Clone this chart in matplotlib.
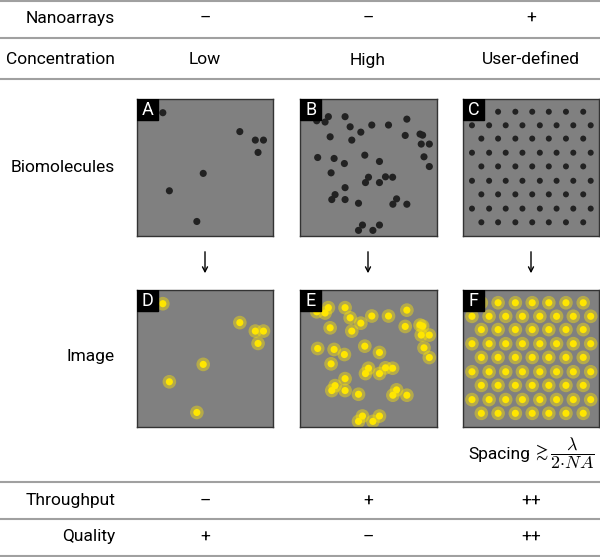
import matplotlib.pyplot as plt
import matplotlib.patches as patches

plt.rcParams["font.family"] = ["Roboto", "DejaVu Sans"]
plt.rcParams["mathtext.fontset"] = "cm"

# table content
col_centers_px = [205, 368, 531]
nanoarrays = ["–", "–", "+"]
concentration = ["Low", "High", "User-defined"]
throughput = ["–", "+", "++"]
quality = ["+", "–", "++"]

# molecule positions (panel fraction, y measured from top)
low_x = [0.19, 0.756, 0.870, 0.930, 0.890, 0.487, 0.238, 0.440]
low_y = [0.10, 0.238, 0.300, 0.300, 0.390, 0.543, 0.670, 0.894]

high_x = [0.122, 0.183, 0.207, 0.329, 0.366, 0.220, 0.378, 0.444, 0.524, 0.646,
          0.780, 0.768, 0.876, 0.895, 0.885, 0.944, 0.129, 0.249, 0.324, 0.473,
          0.580, 0.905, 0.944, 0.227, 0.500, 0.478, 0.580, 0.624, 0.676, 0.329,
          0.256, 0.232, 0.329, 0.427, 0.705, 0.678, 0.780, 0.456, 0.427, 0.532,
          0.580]
high_y = [0.159, 0.168, 0.129, 0.129, 0.203, 0.276, 0.300, 0.242, 0.190, 0.190,
          0.147, 0.266, 0.256, 0.264, 0.329, 0.329, 0.427, 0.434, 0.471, 0.410,
          0.456, 0.422, 0.493, 0.539, 0.571, 0.610, 0.610, 0.568, 0.571, 0.647,
          0.698, 0.734, 0.734, 0.761, 0.729, 0.768, 0.768, 0.920, 0.959, 0.959,
          0.920]

# user-defined lattice
lattice_rows_y = [0.093, 0.192, 0.289, 0.392, 0.492, 0.597, 0.696, 0.800, 0.900]
lattice_odd_x = [0.135, 0.258, 0.385, 0.509, 0.631, 0.757, 0.884]
lattice_even_x = [0.066, 0.192, 0.314, 0.437, 0.565, 0.688, 0.811, 0.939]

W, H = 600, 557
fig = plt.figure(figsize=(6, 5.57), dpi=100)
base = fig.add_axes([0, 0, 1, 1])
base.set_xlim(0, W)
base.set_ylim(H, 0)
base.axis("off")


def px_axes(x0, y0, x1, y1):
    return fig.add_axes([x0 / W, 1 - y1 / H, (x1 - x0) / W, (y1 - y0) / H])


def lattice():
    xs, ys = [], []
    for i, y in enumerate(lattice_rows_y):
        row = lattice_odd_x if i % 2 == 0 else lattice_even_x
        xs += row
        ys += [y] * len(row)
    return xs, ys


def draw_panel(ax, xs, ys, letter, glow, r):
    ax.set_xlim(0, 1)
    ax.set_ylim(1, 0)
    ax.set_xticks([])
    ax.set_yticks([])
    ax.set_facecolor("#808080")
    for s in ax.spines.values():
        s.set_color("#333333")
        s.set_linewidth(1.0)
    for x, y in zip(xs, ys):
        if glow:
            ax.add_patch(patches.Circle((x, y), 0.05, color="#ffe600",
                                        alpha=0.42, lw=0))
            ax.add_patch(patches.Circle((x, y), 0.026, color="#ffe600", lw=0))
        else:
            ax.add_patch(patches.Circle((x, y), r, color="#222222", lw=0))
    ax.add_patch(patches.Rectangle((0, 0.845), 0.155, 0.155, color="black",
                                   transform=ax.transAxes, zorder=5))
    ax.text(0.078, 0.918, letter, color="white", fontsize=13,
            ha="center", va="center", transform=ax.transAxes, zorder=6)


lat_x, lat_y = lattice()
cols_x = [(137, 273), (300, 437), (463, 599)]
panel_data = [(low_x, low_y, 0.026), (high_x, high_y, 0.026),
              (lat_x, lat_y, 0.022)]
letters_top = ["A", "B", "C"]
letters_bot = ["D", "E", "F"]

for (x0, x1), (xs, ys, r), lt, lb in zip(cols_x, panel_data,
                                        letters_top, letters_bot):
    draw_panel(px_axes(x0, 99, x1, 236), xs, ys, lt, False, r)
    draw_panel(px_axes(x0, 290, x1, 427), xs, ys, lb, True, r)

# horizontal rules
for y in [1, 38, 79, 482, 519, 556]:
    base.axhline(y, color="#a0a0a0", lw=1.5)

fs = 12.5
label_x = 115
rows = [("Nanoarrays", nanoarrays, 18),
        ("Concentration", concentration, 60),
        ("Throughput", throughput, 501),
        ("Quality", quality, 537)]
for name, vals, y in rows:
    base.text(label_x, y, name, ha="right", va="center", fontsize=fs)
    for cx, v in zip(col_centers_px, vals):
        base.text(cx, y, v, ha="center", va="center", fontsize=fs)

base.text(label_x, 168, "Biomolecules", ha="right", va="center", fontsize=fs)
base.text(label_x, 357, "Image", ha="right", va="center", fontsize=fs)

for cx in col_centers_px:
    base.annotate("", xy=(cx, 276), xytext=(cx, 249),
                  arrowprops=dict(arrowstyle="->,head_length=0.35,head_width=0.18",
                                  color="black", lw=1.0))

base.text(530, 454, "Spacing", ha="right", va="center", fontsize=fs)
base.text(532, 453, r"$\gtrsim \dfrac{\lambda}{2{\cdot}NA}$",
          ha="left", va="center", fontsize=13)

fig.savefig("out.png", dpi=100)
